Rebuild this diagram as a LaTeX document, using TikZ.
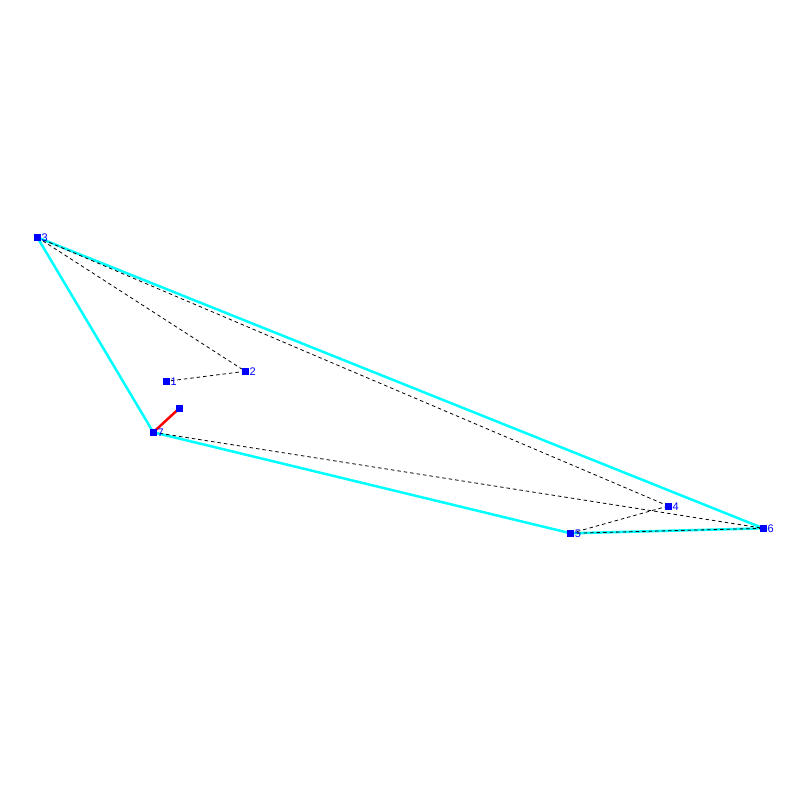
\documentclass[tikz,border=0pt]{standalone}
\usepackage{fontspec}
\setmainfont{Liberation Sans}
\usetikzlibrary{backgrounds}
\definecolor{hullcyan}{RGB}{0,255,255}
\definecolor{ptblue}{RGB}{0,0,255}
\definecolor{redline}{RGB}{255,0,0}
\begin{document}
\begin{tikzpicture}[x=1pt,y=-1pt,
  pt/.style={draw=none,fill=ptblue,minimum size=7pt,inner sep=0pt,outer sep=0pt},
  lbl/.style={text=ptblue,font=\fontsize{11pt}{11pt}\selectfont,anchor=west,inner sep=0pt},
  hull/.style={hullcyan,line width=2.5pt},
  dsh/.style={black,line width=0.8pt,dash pattern=on 3.5pt off 3pt},
  redl/.style={redline,line width=2.5pt}]
\useasboundingbox (0,0) rectangle (800,800);
\node[pt] (p1) at (166.3,381.3) {};
\node[pt] (p2) at (245.3,371.3) {};
\node[pt] (p3) at (37.3,237.3) {};
\node[pt] (p4) at (668.3,506) {};
\node[pt] (p5) at (570.7,533.3) {};
\node[pt] (p6) at (763.3,528.3) {};
\node[pt] (p7) at (153.3,432.3) {};
\node[pt] (p8) at (179.3,408.3) {};
\foreach \i in {1,...,7} { \node[lbl] (l\i) at ([xshift=4pt,yshift=-0.5pt]p\i.center) {\i}; }
\begin{pgfonlayer}{background}
\draw[hull] (p3.center) -- (p6.center) -- (p5.center) -- (p7.center) -- cycle;
\draw[dsh] (p3.center) -- (p2.center);
\draw[dsh] (p2.center) -- (p1.center);
\draw[dsh] (p3.center) -- (p4.center);
\draw[dsh] (p7.center) -- (p6.center);
\draw[dsh] (p5.center) -- (p4.center);
\draw[dsh] (p5.center) -- (p6.center);
\draw[redl] (p7.center) -- (p8.center);
\end{pgfonlayer}
\end{tikzpicture}
\end{document}
